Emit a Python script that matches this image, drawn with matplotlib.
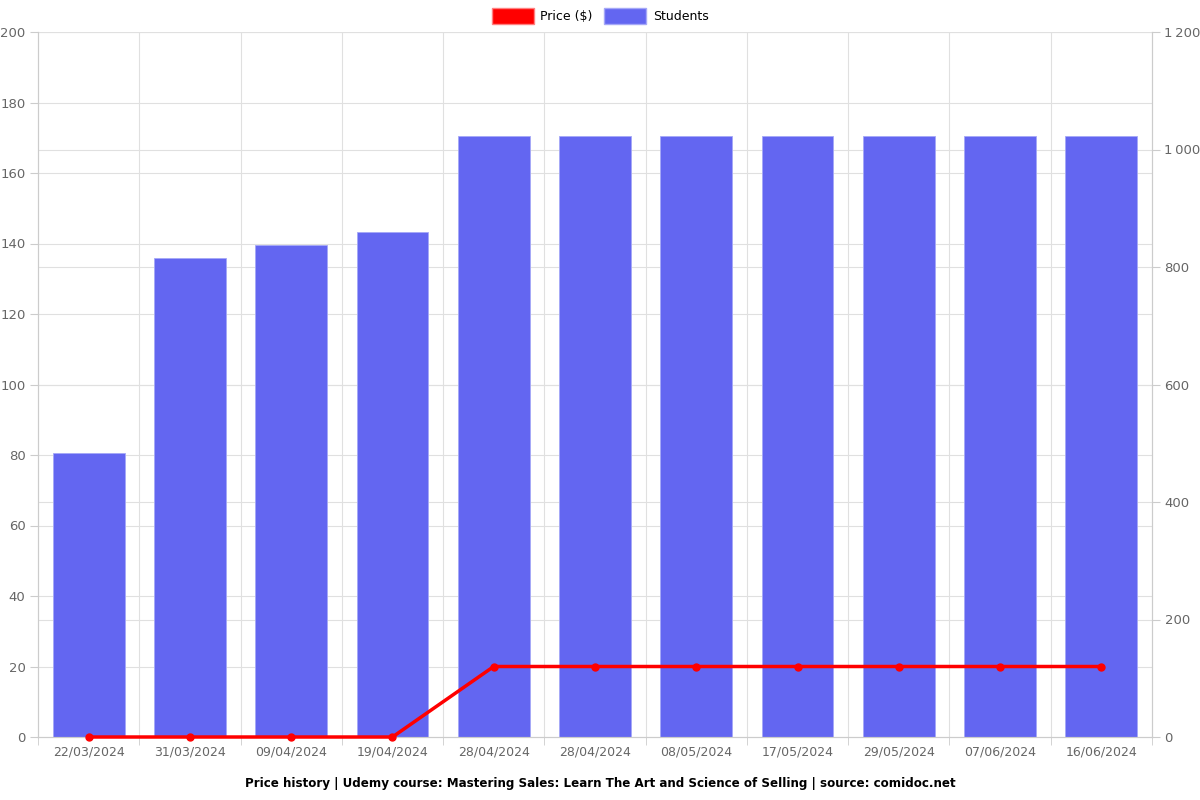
import numpy as np
import matplotlib.pyplot as plt
from matplotlib.ticker import FuncFormatter
from matplotlib.patches import Patch

# -------------------
# Data
# -------------------

dates=["22/03/2024","31/03/2024","09/04/2024","19/04/2024","28/04/2024",
       "28/04/2024","08/05/2024","17/05/2024","29/05/2024","07/06/2024","16/06/2024"]

price=[0,0,0,0,20,20,20,20,20,20,20]

students=[484,815,837,860,1023,1023,1023,1023,1023,1023,1023]

x=np.arange(len(dates))

# -------------------
# Figure
# -------------------

fig=plt.figure(figsize=(12,8),dpi=100)

ax=fig.add_axes([38/1200,1-737/800,(1152-38)/1200,(737-32)/800])
ax2=ax.twinx()

grid_col="#e0e0e0"
text_col="#666666"

# bars on right axis
ax2.bar(
    x,
    students,
    width=0.71,
    color="#6366f1",
    edgecolor="#a5a8f7",
    linewidth=0.6,
    zorder=2
)

ax2.set_ylim(0,1200)
ax2.set_yticks(np.arange(0,1201,200))
ax2.yaxis.set_major_formatter(FuncFormatter(lambda v,p: f"{int(v):,}".replace(",","\u2009")))

# price line on left axis, drawn on top
ax.set_zorder(ax2.get_zorder()+1)
ax.patch.set_visible(False)

ax.plot(
    x,
    price,
    color="#ff0000",
    linewidth=2.5,
    marker="o",
    markersize=5,
    zorder=5,
    clip_on=False
)

ax.set_ylim(0,200)
ax.set_yticks(np.arange(0,201,20))
ax.set_xlim(-0.5,len(dates)-0.5)
ax.set_xticks(x)
ax.set_xticklabels(dates)

# grid: horizontal for both axes, vertical at category boundaries
for v in np.arange(20,201,20):
    ax2.axhline(v*6,color=grid_col,linewidth=0.8,zorder=0)
for v in np.arange(200,1201,200):
    ax2.axhline(v,color=grid_col,linewidth=0.8,zorder=0)
for b in np.arange(0.5,len(dates)-0.5,1):
    ax2.axvline(b,color=grid_col,linewidth=0.8,zorder=0)

ax.set_xticks(np.arange(-0.5,len(dates),1),minor=True)
ax.tick_params(axis="x",which="major",length=0,colors=text_col,labelsize=9,pad=6)
ax.tick_params(axis="x",which="minor",length=6,color="#cccccc")
ax.tick_params(axis="y",length=6,color="#cccccc",colors=text_col,labelsize=9.5,pad=3)
ax2.tick_params(axis="y",length=6,color="#cccccc",colors=text_col,labelsize=9.5,pad=3)

for a in (ax,ax2):
    for s in a.spines.values():
        s.set_color("#cccccc")
        s.set_linewidth(0.8)
    a.spines["top"].set_visible(False)

# -------------------
# Legend and title
# -------------------

handles=[
    Patch(facecolor="#ff0000",edgecolor="#ff8080",label="Price ($)"),
    Patch(facecolor="#6366f1",edgecolor="#a5a8f7",label="Students")
]

fig.legend(
    handles=handles,
    loc="center",
    bbox_to_anchor=(0.5,1-16/800),
    ncol=2,
    frameon=False,
    fontsize=9,
    handlelength=3.4,
    handleheight=1.5,
    columnspacing=0.9,
    handletextpad=0.5
)

fig.text(
    0.5,
    1-783/800,
    "Price history | Udemy course: Mastering Sales: Learn The Art and Science of Selling | source: comidoc.net",
    ha="center",
    va="center",
    fontsize=8.6,
    fontweight="bold"
)

fig.savefig("out.png",dpi=100)
